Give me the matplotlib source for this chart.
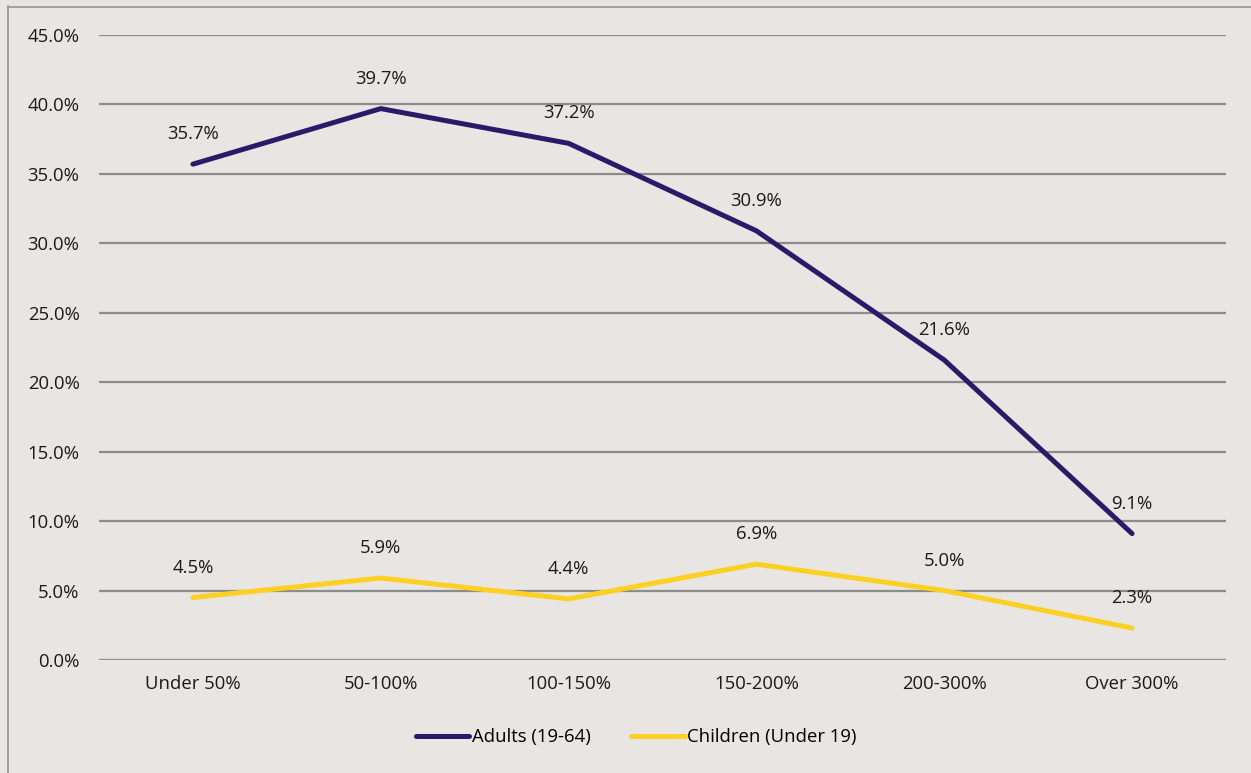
import matplotlib
matplotlib.use("Agg")
import matplotlib.pyplot as plt
from matplotlib.lines import Line2D
from matplotlib.ticker import FuncFormatter

categories = ["Under 50%", "50-100%", "100-150%", "150-200%", "200-300%", "Over 300%"]
adults = [35.7, 39.7, 37.2, 30.9, 21.6, 9.1]
children = [4.5, 5.9, 4.4, 6.9, 5.0, 2.3]
series_names = ["Adults (19-64)", "Children (Under 19)"]
y_ticks = [0, 5, 10, 15, 20, 25, 30, 35, 40, 45]

plt.rcParams["font.family"] = ["Open Sans", "DejaVu Sans"]

BG = "#e8e5e2"
ADULT_C = "#2b1a68"
CHILD_C = "#fdd023"
GRID_C = "#8c8c8c"
FS = 13.3

W, H = 1251, 773
fig = plt.figure(figsize=(W / 100, H / 100), dpi=100, facecolor=BG)

# outer frame (left and top edges)
fig.add_artist(Line2D([7.5 / W, 7.5 / W], [0, 1 - 6 / H], color="#9a9a9a", lw=1.3))
fig.add_artist(Line2D([7.5 / W, 1], [1 - 6.5 / H, 1 - 6.5 / H], color="#9a9a9a", lw=1.3))

ax = fig.add_axes([99 / W, (H - 660) / H, (1226 - 99) / W, (660 - 35) / H])
ax.set_facecolor(BG)
x = list(range(len(categories)))

ax.plot(x, adults, color=ADULT_C, lw=3.6, solid_capstyle="round", solid_joinstyle="round", zorder=3)
ax.plot(x, children, color=CHILD_C, lw=3.6, solid_capstyle="round", solid_joinstyle="round", zorder=3)

for series in (adults, children):
    for xi, v in zip(x, series):
        ax.annotate(f"{v:.1f}%", (xi, v), xytext=(0, 21.5), textcoords="offset points",
                    ha="center", va="center", fontsize=FS, color="#1a1a1a", zorder=4)

ax.set_xlim(-0.5, len(categories) - 0.5)
ax.set_ylim(0, 45)
ax.set_yticks(y_ticks)
ax.yaxis.set_major_formatter(FuncFormatter(lambda v, p: f"{v:.1f}%"))
ax.set_xticks(x)
ax.set_xticklabels(categories)
ax.tick_params(axis="both", length=0, labelsize=FS, colors="#1a1a1a")
ax.tick_params(axis="y", pad=14)
ax.tick_params(axis="x", pad=11)
ax.grid(axis="y", color=GRID_C, lw=1.6, zorder=1)
ax.set_axisbelow(True)
for s in ax.spines.values():
    s.set_visible(False)

handles = [Line2D([], [], color=ADULT_C, lw=3.6, solid_capstyle="round"),
           Line2D([], [], color=CHILD_C, lw=3.6, solid_capstyle="round")]
fig.legend(handles, series_names, loc="center", bbox_to_anchor=(636 / W, 1 - 737 / H),
           ncol=2, frameon=False, fontsize=FS, handlelength=2.9, handletextpad=0.12,
           columnspacing=2.2)

fig.savefig("out.png", dpi=100, facecolor=BG)
